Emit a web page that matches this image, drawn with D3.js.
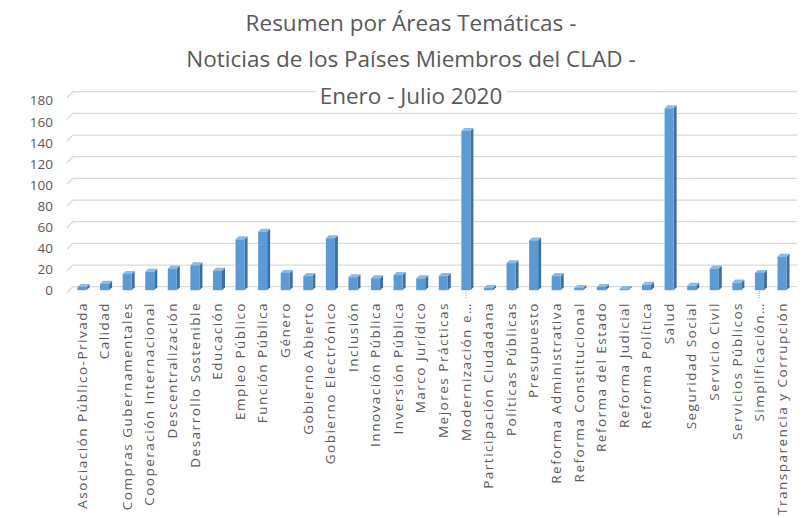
<!DOCTYPE html>
<html lang="es">
<head>
<meta charset="UTF-8">
<title>Resumen por Áreas Temáticas</title>
<script src="https://d3js.org/d3.v7.min.js"></script>
<style>
  body { margin: 0; background: #fff; }
  text { font-family: "Open Sans", sans-serif; fill: #595959; }
  .title { font-size: 22.5px; }
  .yLabel { font-size: 13.5px; }
  .xLabel { font-size: 13.5px; letter-spacing: 1.5px; }
  .grid { stroke: #d9d9d9; stroke-width: 1.3px; fill: none; }
</style>
</head>
<body>
<div id="chart"></div>
<script>
// categories and values
const categories = [
  "Asociación Público-Privada", "Calidad", "Compras Gubernamentales",
  "Cooperación Internacional", "Descentralización", "Desarrollo Sostenible",
  "Educación", "Empleo Público", "Función Pública", "Género",
  "Gobierno Abierto", "Gobierno Electrónico", "Inclusión", "Innovación Pública",
  "Inversión Pública", "Marco Jurídico", "Mejores Prácticas", "Modernización e…",
  "Participación Ciudadana", "Políticas Públicas", "Presupuesto",
  "Reforma Administrativa", "Reforma Constitucional", "Reforma del Estado",
  "Reforma Judicial", "Reforma Política", "Salud", "Seguridad Social",
  "Servicio Civil", "Servicios Públicos", "Simplificación…",
  "Transparencia y Corrupción"
];
const values = [
  3, 6, 15, 17, 20, 23, 18, 47, 54, 16,
  13, 48, 12, 11, 14, 11, 13, 147, 2, 25, 46,
  13, 2, 3, 1, 5, 168, 4, 20, 7, 16, 31
];
const truncated = ["Modernización e…", "Simplificación…"];
const yTicks = [0, 20, 40, 60, 80, 100, 120, 140, 160, 180];
const titleLines = [
  "Resumen por Áreas Temáticas -",
  "Noticias de los Países Miembros del CLAD -",
  "Enero - Julio 2020"
];

const W = 803, H = 518;
const depth = 6;      // oblique offset of the back wall
const barDepth = 3;   // oblique offset of a bar

const svg = d3.select("#chart").append("svg")
  .attr("width", W).attr("height", H);

// x: one band per category
const x = d3.scaleBand()
  .domain(categories)
  .range([70.7, 793.3])
  .paddingInner(0.6)
  .paddingOuter(0.3);

// scales for the back wall (gridlines), the tick labels and the bar fronts
const yWall = d3.scaleLinear().domain([0, 180]).range([286.7, 91.7]);
const yLab = d3.scaleLinear().domain([0, 180]).range([290.7, 100.7]);
const yBar = d3.scaleLinear().domain([0, 180]).range([290.2, 95.3]);

const wallLeft = 73, wallRight = 797;

// gridlines with the little perspective kink on the left
svg.append("g").selectAll("path")
  .data(yTicks).enter()
  .append("path")
  .attr("class", "grid")
  .attr("d", d => `M${wallLeft - depth},${yWall(d) + depth}L${wallLeft},${yWall(d)}H${wallRight}`);

// y labels
svg.append("g").selectAll("text")
  .data(yTicks).enter()
  .append("text")
  .attr("class", "yLabel")
  .attr("x", 53)
  .attr("y", d => yLab(d))
  .attr("dy", "0.35em")
  .attr("text-anchor", "end")
  .text(d => d);

// bars drawn as simple 3D columns
const data = categories.map((c, i) => ({ key: c, value: values[i] }));
const bars = svg.append("g").selectAll("g")
  .data(data).enter()
  .append("g");

const bw = x.bandwidth();
// right side
bars.append("path")
  .attr("fill", "#3f6f9f")
  .attr("d", d => {
    const x1 = x(d.key) + bw, y0 = yBar(0), y1 = yBar(d.value);
    return `M${x1},${y0}L${x1 + barDepth},${y0 - barDepth}L${x1 + barDepth},${y1 - barDepth}L${x1},${y1}Z`;
  });
// top
bars.append("path")
  .attr("fill", "#8cb9e6")
  .attr("d", d => {
    const x0 = x(d.key), y1 = yBar(d.value);
    return `M${x0},${y1}L${x0 + barDepth},${y1 - barDepth}L${x0 + bw + barDepth},${y1 - barDepth}L${x0 + bw},${y1}Z`;
  });
// front
bars.append("rect")
  .attr("fill", "#5b9bd5")
  .attr("x", d => x(d.key))
  .attr("y", d => yBar(d.value))
  .attr("width", bw)
  .attr("height", d => yBar(0) - yBar(d.value));

// small dotted marks under truncated labels
svg.append("g").selectAll("line")
  .data(truncated).enter()
  .append("line")
  .attr("x1", d => x(d) + bw / 2).attr("x2", d => x(d) + bw / 2)
  .attr("y1", 291).attr("y2", 299)
  .attr("stroke", "#a6a6a6")
  .attr("stroke-dasharray", "1,1");

// x labels, rotated
svg.append("g").selectAll("text")
  .data(categories).enter()
  .append("text")
  .attr("class", "xLabel")
  .attr("transform", d => `translate(${x(d) + bw / 2},302) rotate(-90)`)
  .attr("dy", "0.35em")
  .attr("text-anchor", "end")
  .text(d => d);

// title, last line sits over the top gridline
const titleY = [30.5, 67, 104];
const titleBg = svg.append("rect").attr("fill", "#fff");
const titles = svg.append("g").selectAll("text")
  .data(titleLines).enter()
  .append("text")
  .attr("class", "title")
  .attr("x", 411)
  .attr("y", (d, i) => titleY[i])
  .attr("text-anchor", "middle")
  .text(d => d);
const bb = titles.filter((d, i) => i === titleLines.length - 1).node().getBBox();
titleBg.attr("x", bb.x - 4).attr("y", bb.y).attr("width", bb.width + 8).attr("height", bb.height);
</script>
</body>
</html>
